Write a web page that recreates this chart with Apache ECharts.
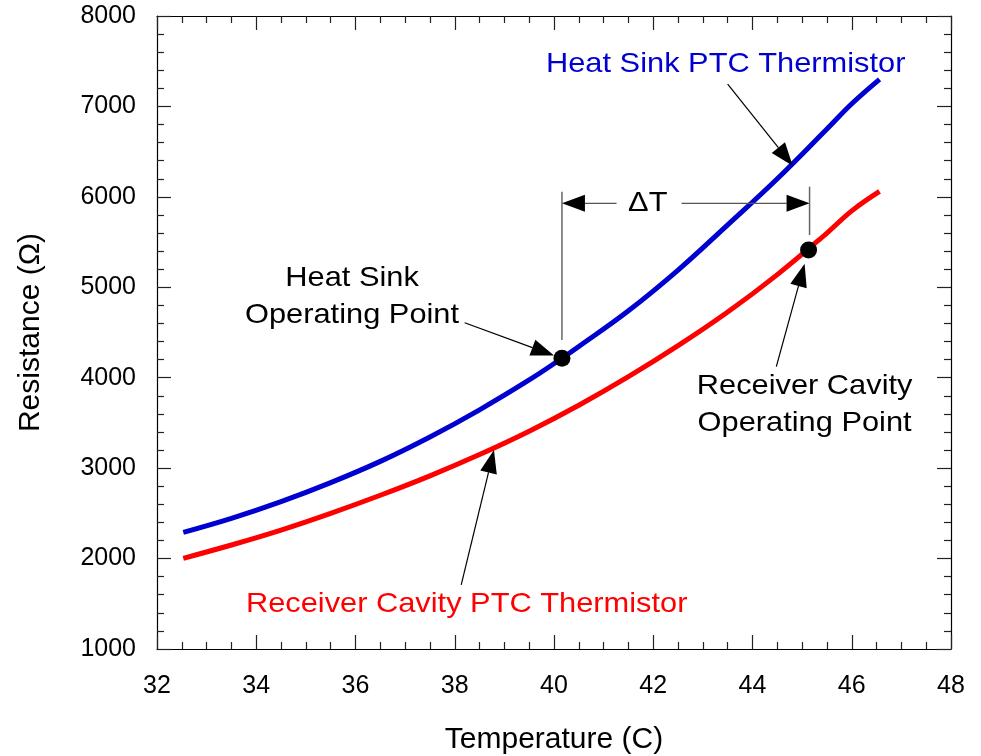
<!DOCTYPE html>
<html>
<head>
<meta charset="utf-8">
<script src="https://cdn.jsdelivr.net/npm/echarts@6/dist/echarts.min.js"></script>
<style>
html, body { margin: 0; padding: 0; background: #fff; }
#main { width: 981px; height: 756px; }
</style>
</head>
<body>
<div id="main"></div>
<script>
// 数据
var heatSinkT = [32.53, 33.5, 34.5, 35.5, 36.5, 37.5, 38.5, 39.5, 40.16, 40.5, 41.5, 42.5, 43.5, 44.5, 45.5, 46.0, 46.56];
var heatSinkR = [2290, 2445, 2630, 2840, 3075, 3345, 3645, 3975, 4215, 4345, 4740, 5190, 5690, 6200, 6750, 7030, 7300];

var cavityT = [32.53, 33.5, 34.5, 35.5, 36.5, 37.5, 38.5, 39.5, 40.5, 41.5, 42.5, 43.5, 44.5, 45.5, 46.0, 46.56];
var cavityR = [2003, 2150, 2315, 2500, 2700, 2915, 3150, 3408, 3695, 4011, 4354, 4726, 5140, 5600, 5845, 6060];

var opPointT = [40.16, 45.13];
var opPointR = [4215, 5412];

var xMin = 32, xMax = 48, xStep = 2;
var yMin = 1000, yMax = 8000, yStep = 1000;

var FONT = '"Liberation Sans", Arial, sans-serif';

function zip(a, b) {
    return a.map(function (v, i) { return [v, b[i]]; });
}

var chart = echarts.init(document.getElementById('main'));

// 坐标轴公共样式
function axisBase(pos, showLabel) {
    return {
        type: 'value',
        position: pos,
        axisLine: { show: true, onZero: false, lineStyle: { color: '#000', width: 1.2 } },
        axisTick: { show: true, inside: true, length: 14, lineStyle: { color: '#222', width: 1.2 } },
        minorTick: { show: true, length: 7, lineStyle: { color: '#222', width: 1.2 } },
        splitLine: { show: false },
        axisLabel: {
            show: showLabel, color: '#000', fontSize: 25, fontFamily: FONT,
            showMinLabel: true, showMaxLabel: true,
            formatter: function (v) { return String(v); }
        }
    };
}

var xBottom = axisBase('bottom', true);
xBottom.min = xMin; xBottom.max = xMax; xBottom.interval = xStep;
xBottom.minorTick.splitNumber = 4;
xBottom.axisLabel.margin = 25;
xBottom.name = 'Temperature (C)';
xBottom.nameLocation = 'middle';
xBottom.nameGap = 76;
xBottom.nameTextStyle = { color: '#000', fontSize: 30, fontFamily: FONT };

var xTop = axisBase('top', false);
xTop.min = xMin; xTop.max = xMax; xTop.interval = xStep;
xTop.minorTick.splitNumber = 4;

var yLeft = axisBase('left', true);
yLeft.min = yMin; yLeft.max = yMax; yLeft.interval = yStep;
yLeft.minorTick.splitNumber = 5;
yLeft.axisLabel.margin = 21;
yLeft.name = 'Resistance (Ω)';
yLeft.nameLocation = 'middle';
yLeft.nameGap = 111;
yLeft.nameTextStyle = { color: '#000', fontSize: 30, fontFamily: FONT };

var yRight = axisBase('right', false);
yRight.min = yMin; yRight.max = yMax; yRight.interval = yStep;
yRight.minorTick.splitNumber = 5;

var option = {
    backgroundColor: '#fff',
    animation: false,
    grid: { left: 157, right: 30, top: 16, bottom: 107, outerBoundsMode: 'none' },
    xAxis: [xBottom, xTop],
    yAxis: [yLeft, yRight],
    series: [
        {
            name: 'Heat Sink PTC Thermistor',
            type: 'line',
            data: zip(heatSinkT, heatSinkR),
            showSymbol: false,
            smooth: 0.4,
            lineStyle: { color: '#0000d0', width: 5 },
            itemStyle: { color: '#0000d0' },
            z: 2
        },
        {
            name: 'Receiver Cavity PTC Thermistor',
            type: 'line',
            data: zip(cavityT, cavityR),
            showSymbol: false,
            smooth: 0.4,
            lineStyle: { color: '#ff0000', width: 5 },
            itemStyle: { color: '#ff0000' },
            z: 2
        },
        {
            name: 'Operating Point',
            type: 'scatter',
            data: zip(opPointT, opPointR),
            symbol: 'circle',
            symbolSize: 17,
            itemStyle: { color: '#000', opacity: 1 },
            z: 5
        }
    ]
};

chart.setOption(option);

// 注释：用数据坐标定位，再由图表换算成像素
function px(p) {
    return chart.convertToPixel({ xAxisIndex: 0, yAxisIndex: 0 }, p);
}

function arrow(from, tip, color) {
    var a = px(from), b = px(tip);
    var dx = b[0] - a[0], dy = b[1] - a[1];
    var len = Math.sqrt(dx * dx + dy * dy);
    var ux = dx / len, uy = dy / len;
    var hl = 23, hw = 8.5;
    var bx = b[0] - ux * hl, by = b[1] - uy * hl;
    return [
        { type: 'line', z: 10, shape: { x1: a[0], y1: a[1], x2: bx, y2: by }, style: { stroke: color, lineWidth: 1.2 } },
        { type: 'polygon', z: 10, shape: { points: [[b[0], b[1]], [bx - uy * hw, by + ux * hw], [bx + uy * hw, by - ux * hw]] }, style: { fill: '#000' } }
    ];
}

function vline(x, y1, y2) {
    var a = px([x, y1]), b = px([x, y2]);
    return { type: 'line', z: 10, shape: { x1: a[0], y1: a[1], x2: b[0], y2: b[1] }, style: { stroke: '#666', lineWidth: 1.5 } };
}

// 原图文字略宽，横向拉伸一点
function label(pos, text, color) {
    var p = px(pos);
    return {
        type: 'text', z: 10, x: p[0], y: p[1], scaleX: 1.1,
        style: {
            text: text, fill: color, font: '28px ' + FONT, lineHeight: 37,
            align: 'center', verticalAlign: 'middle', textAlign: 'center', textVerticalAlign: 'middle'
        }
    };
}

var g = [];
g = g.concat(arrow([43.5, 7248], [44.81, 6345], '#000'));
g = g.concat(arrow([38.2, 4608], [40.0, 4245], '#000'));
g = g.concat(arrow([44.48, 4122], [45.05, 5260], '#000'));
g = g.concat(arrow([38.13, 1708], [38.79, 3200], '#000'));
g.push(vline(40.16, 4417, 6057));
g.push(vline(45.15, 5578, 6112));
g = g.concat(arrow([41.26, 5929], [40.16, 5929], '#555'));
g = g.concat(arrow([42.57, 5929], [45.15, 5929], '#555'));
g.push(label([41.89, 5929], 'ΔT', '#000'));
g.push(label([43.46, 7469], 'Heat Sink PTC Thermistor', '#0000d0'));
g.push(label([35.93, 4898], 'Heat Sink\nOperating Point', '#000'));
g.push(label([45.05, 3698], 'Receiver Cavity\nOperating Point', '#000'));
g.push(label([38.24, 1498], 'Receiver Cavity PTC Thermistor', '#ff0000'));

chart.setOption({ graphic: { elements: g } });
</script>
</body>
</html>
